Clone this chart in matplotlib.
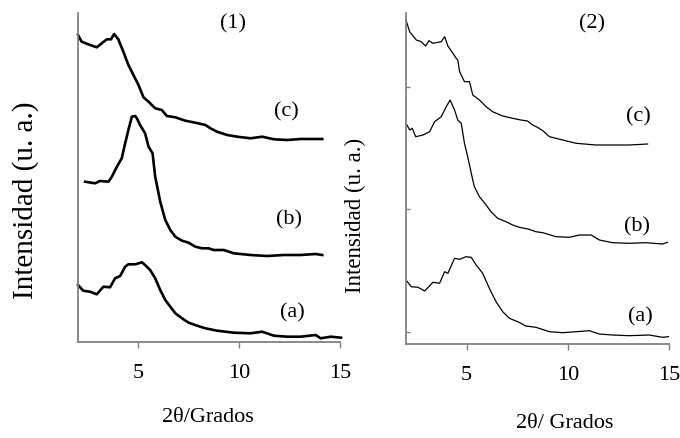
import matplotlib
matplotlib.use("Agg")
import matplotlib.pyplot as plt

plt.rcParams['font.family'] = ['Liberation Serif', 'DejaVu Serif']

# ---------------- data (panel 1) ----------------
x1c = [2.0, 2.18, 2.51, 2.93, 3.18, 3.43, 3.64, 3.79, 4.0, 4.25, 4.50, 4.75, 5.0, 5.25, 5.50, 5.83,
       6.16, 6.41, 6.83, 7.32, 7.82, 8.32, 8.57, 8.90, 9.40, 9.90, 10.56, 11.14, 11.72, 12.38, 13.04, 14.12]
y1c = [307, 300.3, 297.7, 294.7, 298.7, 302.7, 302.7, 308, 302.7, 290.3, 277, 267, 257, 244.7, 240.3, 233.7,
       232, 226, 224.7, 221.3, 219.3, 217, 213.7, 210.3, 207, 205.3, 203.7, 205.3, 202.7, 202, 203, 203]

x1b = [2.35, 2.85, 3.09, 3.51, 3.68, 3.93, 4.17, 4.34, 4.50, 4.67, 4.84, 4.92, 5.08, 5.33, 5.50, 5.70,
       5.83, 6.08, 6.33, 6.58, 6.83, 7.16, 7.49, 7.82, 8.15, 8.48, 8.73, 9.23, 9.73, 10.56, 11.39, 12.21,
       13.04, 13.79, 14.12]
y1b = [160.3, 158.7, 161, 160.3, 165.3, 175.3, 183.7, 198.7, 212, 225.3, 226, 223.7, 217, 208.7, 195.3, 188.7,
       165.3, 140.3, 122, 112, 105.3, 101.3, 99.3, 95.3, 93.7, 93.7, 92, 92, 88.7, 87, 86, 87,
       87, 88, 87]

x1a = [2.0, 2.26, 2.60, 2.93, 3.26, 3.59, 3.84, 4.09, 4.34, 4.50, 4.84, 5.17, 5.33, 5.58, 5.83, 6.08,
       6.33, 6.58, 6.83, 7.16, 7.49, 7.91, 8.32, 8.90, 9.73, 10.56, 11.14, 11.72, 12.38, 13.04, 13.79,
       14.04, 14.54, 15.05]
y1a = [57, 51.3, 50.3, 47.7, 55.3, 54.7, 63.7, 66, 75.3, 77.7, 77.7, 79.7, 77, 72, 63.7, 52,
       42, 35.3, 28.7, 23.7, 19.3, 16.3, 13.7, 11.3, 9.3, 8.7, 10.3, 6.3, 5.3, 5.3, 7,
       3.7, 5.3, 4.3]

# ---------------- data (panel 2) ----------------
x2c = [2.0, 2.18, 2.51, 2.75, 2.97, 3.13, 3.33, 3.58, 3.74, 3.91, 4.07, 4.32, 4.48, 4.56, 4.65, 4.89,
       5.14, 5.30, 5.63, 5.96, 6.28, 6.78, 7.27, 7.68, 8.01, 8.26, 8.50, 8.76, 9.09, 9.75, 10.41, 11.39,
       12.38, 13.04, 13.94]
y2c = [324, 312.3, 304, 302.3, 298, 303.3, 300.7, 301.7, 302.3, 307.3, 298, 290.7, 285.7, 284, 272.3, 262.3,
       262.3, 249, 244, 237.3, 232.3, 228, 225.7, 224, 223, 219, 216.7, 213.3, 207.3, 204, 200.7, 199,
       199, 199, 200]

x2b = [2.0, 2.18, 2.31, 2.48, 2.84, 3.17, 3.41, 3.74, 3.99, 4.18, 4.40, 4.56, 4.73, 4.89, 5.05, 5.30,
       5.38, 5.63, 5.96, 6.20, 6.53, 6.94, 7.27, 7.60, 8.09, 8.42, 8.76, 9.42, 10.08, 10.57, 11.15, 11.56,
       12.21, 13.04, 13.86, 14.68, 14.92]
y2b = [220.7, 214, 215.7, 207.3, 209, 212.3, 222.3, 227.3, 237.3, 244, 234, 224, 220.7, 200.7, 187.3, 164,
       157.3, 147.3, 139, 132.3, 125.7, 122.3, 119, 116.7, 114.7, 112.3, 111.3, 107.3, 106.7, 109, 109, 104,
       101.3, 100.7, 101.3, 100, 101.7]

x2a = [2.0, 2.26, 2.59, 2.92, 3.33, 3.66, 3.91, 4.07, 4.40, 4.65, 4.97, 5.22, 5.47, 5.79, 6.12, 6.45,
       6.78, 7.11, 7.52, 7.93, 8.42, 9.09, 9.75, 10.41, 11.06, 11.56, 12.21, 13.04, 14.02, 14.68, 14.97]
y2a = [64, 57.3, 56.7, 53, 61.7, 60.7, 72.3, 70.7, 85.7, 84.7, 87.3, 86.7, 79, 70.7, 55.7, 42.3,
       32.3, 25.7, 22.3, 18, 16.7, 12.3, 11.3, 12.3, 13.3, 10, 9, 8.3, 9, 6.7, 7.3]

xticks = [5, 10, 15]
yticks2 = [11.7, 134.7, 257.3]

W, H = 680, 438
fig = plt.figure(figsize=(W / 100, H / 100), dpi=100)


def px_axes(l, t, r, b):
    return fig.add_axes([l / W, 1 - b / H, (r - l) / W, (b - t) / H])


def ftext(x, y, s, **kw):
    fig.text(x / W, 1 - y / H, s, ha='center', va='center', **kw)


spine_col = '#808080'
fs = 16


def style(ax, ymax):
    ax.set_xlim(2, 15)
    ax.set_ylim(0, ymax)
    for s in ['top', 'right']:
        ax.spines[s].set_visible(False)
    for s in ['left', 'bottom']:
        ax.spines[s].set_color(spine_col)
        ax.spines[s].set_linewidth(1.3)
    ax.set_xticks(xticks)
    ax.set_xticklabels([str(t) for t in xticks], fontsize=fs)
    ax.tick_params(axis='x', direction='out', length=4, width=1.0, color=spine_col, pad=12)
    ax.patch.set_alpha(0)


ax1 = px_axes(78, 13, 340, 342)
ax1.plot(x1c, y1c, color='black', lw=1.9, clip_on=False)
ax1.plot(x1b, y1b, color='black', lw=1.9, clip_on=False)
ax1.plot(x1a, y1a, color='black', lw=1.9, clip_on=False)
style(ax1, 329)
ax1.set_yticks([])

ax2 = px_axes(406, 13, 669, 344)
ax2.plot(x2c, y2c, color='black', lw=0.9, clip_on=False)
ax2.plot(x2b, y2b, color='black', lw=0.9, clip_on=False)
ax2.plot(x2a, y2a, color='black', lw=0.9, clip_on=False)
style(ax2, 331)
ax2.set_yticks(yticks2)
ax2.set_yticklabels([])
ax2.tick_params(axis='y', direction='in', length=3, width=1.0, color=spine_col)

ftext(233, 24, '(1)', fontsize=fs)
ftext(592, 24, '(2)', fontsize=fs)
ftext(286, 112, '(c)', fontsize=fs)
ftext(289, 220, '(b)', fontsize=fs)
ftext(292, 313, '(a)', fontsize=fs)
ftext(638, 117, '(c)', fontsize=fs)
ftext(637, 227, '(b)', fontsize=fs)
ftext(640, 317, '(a)', fontsize=fs)
ftext(208, 417, '2θ/Grados', fontsize=fs)
ftext(565, 423, '2θ/ Grados', fontsize=fs)
ftext(26, 200, 'Intensidad (u. a.)', fontsize=21, rotation=90)
ftext(355, 215, 'Intensidad (u. a.)', fontsize=16.5, rotation=90)

fig.savefig('out.png', dpi=100)
